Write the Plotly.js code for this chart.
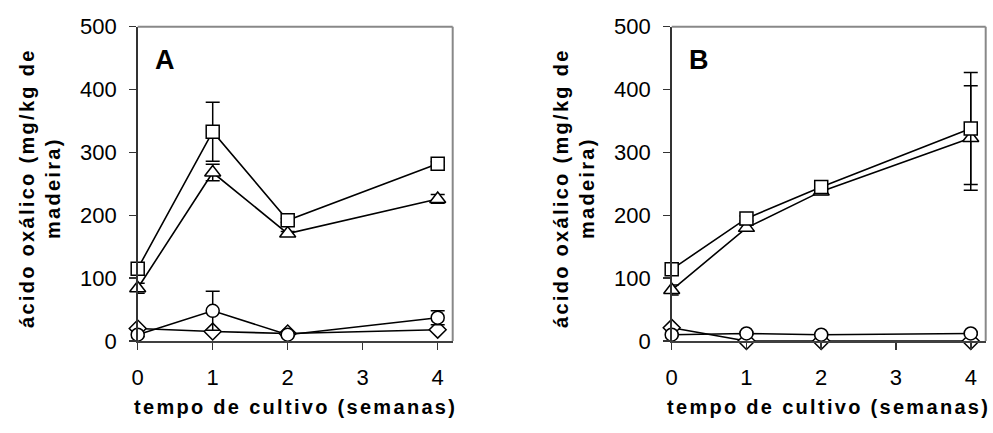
<!DOCTYPE html>
<html>
<head>
<meta charset="utf-8">
<script src="https://cdn.plot.ly/plotly-3.0.1.min.js"></script>
<style>
  html, body { margin: 0; padding: 0; background: #fff; }
  #chart { width: 993px; height: 433px; }
  .annotation-text { letter-spacing: 2.3px; }
</style>
</head>
<body>
<div id="chart"></div>
<script>
// ---- data ----
const weeks = [0, 1, 2, 4];
const xTickVals = [0, 1, 2, 3, 4];
const yTickVals = [0, 100, 200, 300, 400, 500];

// Panel A
const aSquare = [115, 333, 192, 282];
const aSquareErr = [3, 47, 3, 3];
const aTriangle = [84, 268, 171, 226];
const aTriangleErr = [8, 13, 3, 7];
const aCircle = [10, 48, 10, 37];
const aCircleErr = [3, 31, 2, 11];
const aDiamond = [20, 15, 12, 18];
const aDiamondErr = [2, 2, 2, 2];

// Panel B
const bSquare = [114, 195, 245, 338];
const bSquareErr = [5, 4, 4, 89];
const bTriangle = [81, 180, 238, 323];
const bTriangleErr = [8, 5, 5, 83];
const bCircle = [10, 12, 10, 12];
const bCircleErr = [2, 2, 2, 2];
const bDiamond = [21, 0, 0, 0];
const bDiamondErr = [2, 0, 0, 0];

const panelLabels = ['A', 'B'];
const yTitle = 'ácido oxálico (mg/kg de<br>madeira)';
const xTitle = 'tempo de cultivo (semanas)';

// ---- helpers ----
const W = 993, H = 433;
const FONT = 'Liberation Sans, Arial, sans-serif';
const markerDefs = {
  diamond: {symbol: 'diamond', size: 13},
  circle: {symbol: 'circle', size: 13},
  triangle: {symbol: 'triangle-up', size: 14},
  square: {symbol: 'square', size: 13}
};
function trace(y, err, shape, xa, ya) {
  const m = markerDefs[shape];
  return {
    x: weeks, y: y, xaxis: xa, yaxis: ya,
    type: 'scatter', mode: 'lines+markers', cliponaxis: false,
    line: {color: '#000', width: 1.6},
    marker: {symbol: m.symbol, size: m.size, color: '#fff', line: {color: '#000', width: 1.5}},
    error_y: {type: 'data', array: err, visible: true, color: '#000', thickness: 1.5, width: 7},
    hoverinfo: 'x+y', showlegend: false
  };
}

const data = [
  trace(aDiamond, aDiamondErr, 'diamond', 'x', 'y'),
  trace(aCircle, aCircleErr, 'circle', 'x', 'y'),
  trace(aTriangle, aTriangleErr, 'triangle', 'x', 'y'),
  trace(aSquare, aSquareErr, 'square', 'x', 'y'),
  trace(bDiamond, bDiamondErr, 'diamond', 'x2', 'y2'),
  trace(bCircle, bCircleErr, 'circle', 'x2', 'y2'),
  trace(bTriangle, bTriangleErr, 'triangle', 'x2', 'y2'),
  trace(bSquare, bSquareErr, 'square', 'x2', 'y2')
];

const plotTop = 26.7, plotBottom = 341;
const panelsPx = [[137.7, 452.7], [671.7, 985.7]];
const yDomain = [1 - plotBottom / H, 1 - plotTop / H];

function xAxis(i) {
  return {
    domain: [panelsPx[i][0] / W, panelsPx[i][1] / W],
    range: [0, 4.2], anchor: i === 0 ? 'y' : 'y2',
    tickmode: 'array', tickvals: xTickVals,
    ticks: 'outside', ticklen: 7, tickwidth: 1.5, tickcolor: '#333',
    ticklabelstandoff: 9,
    showline: true, linecolor: '#404040', linewidth: 2,
    showgrid: false, zeroline: false, fixedrange: true,
    tickfont: {family: FONT, size: 22, color: '#000'}
  };
}
function yAxis(i) {
  return {
    domain: yDomain, range: [0, 500], anchor: i === 0 ? 'x' : 'x2',
    tickmode: 'array', tickvals: yTickVals,
    ticks: 'outside', ticklen: 7, tickwidth: 1.5, tickcolor: '#333',
    ticklabelstandoff: 8,
    showline: true, linecolor: '#333', linewidth: 1.5,
    showgrid: false, zeroline: false, fixedrange: true,
    tickfont: {family: FONT, size: 22, color: '#000'}
  };
}

const shapes = [];
const annotations = [];
['x', 'x2'].forEach((xa, i) => {
  const ya = i === 0 ? 'y' : 'y2';
  shapes.push({type: 'line', xref: xa + ' domain', yref: ya + ' domain', x0: 0, x1: 1, y0: 1, y1: 1,
               line: {color: '#888', width: 2}});
  shapes.push({type: 'line', xref: xa + ' domain', yref: ya + ' domain', x0: 1, x1: 1, y0: 0, y1: 1,
               line: {color: '#888', width: 2}});
  const left = panelsPx[i][0], right = panelsPx[i][1];
  // panel letter
  annotations.push({text: '<b>' + panelLabels[i] + '</b>', xref: 'paper', yref: 'paper',
    x: (left + 28) / W, y: 1 - 60 / H, xanchor: 'center', yanchor: 'middle', showarrow: false,
    font: {family: FONT, size: 27, color: '#000'}});
  // x title
  annotations.push({text: '<b>' + xTitle + '</b>', xref: 'paper', yref: 'paper',
    x: (left + right) / 2 / W, y: 1 - 407 / H, xanchor: 'center', yanchor: 'middle', showarrow: false,
    font: {family: FONT, size: 20, color: '#000'}});
  // y title
  annotations.push({text: '<b>' + yTitle + '</b>', xref: 'paper', yref: 'paper',
    x: (left - 97.7) / W, y: 1 - 188 / H, xanchor: 'center', yanchor: 'middle', showarrow: false,
    textangle: -90, font: {family: FONT, size: 20, color: '#000'}});
});

const layout = {
  width: W, height: H,
  margin: {l: 0, r: 0, t: 0, b: 0},
  paper_bgcolor: '#fff', plot_bgcolor: '#fff',
  showlegend: false,
  xaxis: xAxis(0), yaxis: yAxis(0),
  xaxis2: xAxis(1), yaxis2: yAxis(1),
  shapes: shapes, annotations: annotations
};

Plotly.newPlot('chart', data, layout, {displayModeBar: false, staticPlot: true});
</script>
</body>
</html>
